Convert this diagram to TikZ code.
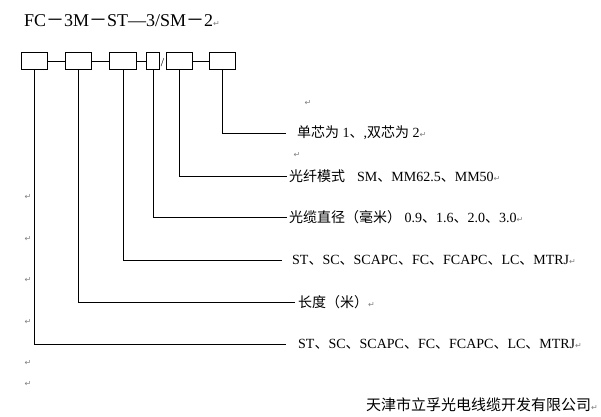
\documentclass[tikz,border=0pt]{standalone}
\usepackage{fontspec}
\setmainfont{Liberation Serif}
\newfontfamily\cjk{Noto Sans CJK SC}
\newfontfamily\simbolos{DejaVu Sans}
\newcommand{\marcaret}{{\simbolos\fontsize{8}{8}\selectfont\color{gray}↵}}

\begin{document}
\begin{tikzpicture}[
    x=1pt, y=-1pt,
    % Estilo de las casillas del código
    caja/.style={draw=black, line width=0.9pt, minimum width=26.5pt, minimum height=17.5pt, inner sep=0pt},
    % Estilo de las líneas guía
    guia/.style={draw=black, line width=0.8pt},
    % Estilo de los textos explicativos
    etiqueta/.style={anchor=west, inner sep=0pt, font=\fontsize{14}{14}\selectfont},
    marca/.style={inner sep=0pt}
]
    \useasboundingbox (0,0) rectangle (601,416);

    % --- TÍTULO ---
    \node[anchor=base west, inner sep=0pt, font=\fontsize{18}{18}\selectfont] (titulo) at (24,26)
        {FC{\cjk －}3M{\cjk －}ST—3/SM{\cjk －}2\marcaret};

    % --- CASILLAS ---
    \node[caja] (b1) at (34.5,61) {};
    \node[caja] (b2) at (78.5,61) {};
    \node[caja] (b3) at (123,61) {};
    \node[caja, minimum width=13pt] (b4) at (153,61) {};
    \node[caja] (b5) at (179.5,61) {};
    \node[caja] (b6) at (222.5,61) {};
    \node[inner sep=0pt, font=\fontsize{12}{12}\selectfont] (barra) at (162.5,63) {/};

    \draw[guia] (b1.east) -- (b2.west);
    \draw[guia] (b2.east) -- (b3.west);
    \draw[guia] (b3.east) -- (b4.west);
    \draw[guia] (b5.east) -- (b6.west);

    % --- TEXTOS ---
    \node[etiqueta] (l6) at (297,133) {{\cjk 单芯为} 1{\cjk 、},{\cjk 双芯为} 2\marcaret};
    \node[etiqueta] (l5) at (289,176) {{\cjk 光纤模式}\hspace{12pt}SM{\cjk 、}MM62.5{\cjk 、}MM50\marcaret};
    \node[etiqueta] (l4) at (289,217) {{\cjk 光缆直径（毫米）} 0.9{\cjk 、}1.6{\cjk 、}2.0{\cjk 、}3.0\marcaret};
    \node[etiqueta] (l3) at (292,260) {ST{\cjk 、}SC{\cjk 、}SCAPC{\cjk 、}FC{\cjk 、}FCAPC{\cjk 、}LC{\cjk 、}MTRJ\marcaret};
    \node[etiqueta] (l2) at (298,302) {{\cjk 长度（米）}\marcaret};
    \node[etiqueta] (l1) at (298,344) {ST{\cjk 、}SC{\cjk 、}SCAPC{\cjk 、}FC{\cjk 、}FCAPC{\cjk 、}LC{\cjk 、}MTRJ\marcaret};

    % --- LÍNEAS GUÍA ---
    \draw[guia] (b6.south) |- ([xshift=-11pt]l6.west);
    \draw[guia] (b5.south) |- ([xshift=-2pt]l5.west);
    \draw[guia] (b4.south) |- ([xshift=-2pt]l4.west);
    \draw[guia] (b3.south) |- ([xshift=-10pt]l3.west);
    \draw[guia] (b2.south) |- ([xshift=-3pt]l2.west);
    \draw[guia] (b1.south) |- ([xshift=-12pt]l1.west);

    % --- MARCAS DE PÁRRAFO ---
    \node[marca] (m1) at (308,103) {\marcaret};
    \node[marca] (m2) at (297,155) {\marcaret};
    \node[marca] (m3) at (28,197) {\marcaret};
    \node[marca] (m4) at (28,239) {\marcaret};
    \node[marca] (m5) at (28,280) {\marcaret};
    \node[marca] (m6) at (28,322) {\marcaret};
    \node[marca] (m7) at (28,363) {\marcaret};
    \node[marca] (m8) at (28,384) {\marcaret};

    % --- EMPRESA ---
    \node[anchor=west, inner sep=0pt, font=\cjk\fontsize{15}{15}\selectfont] (empresa) at (366,405)
        {天津市立孚光电线缆开发有限公司\marcaret};

\end{tikzpicture}
\end{document}
